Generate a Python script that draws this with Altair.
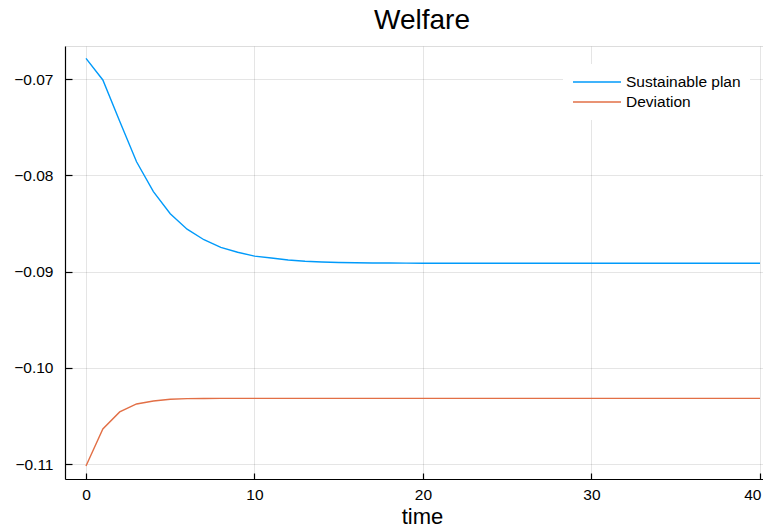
import altair as alt
import pandas as pd

time = list(range(41))
sustainable = [-0.06785, -0.0701, -0.0744, -0.0786, -0.0817, -0.0840, -0.0856, -0.0867,
               -0.0875, -0.0880, -0.0884, -0.0886, -0.0888, -0.08893, -0.08901, -0.08906,
               -0.08909, -0.08911, -0.08912, -0.08913, -0.08914] + [-0.08915] * 20
deviation = [-0.1102, -0.10636, -0.10459, -0.10376, -0.10345, -0.10327, -0.10321,
             -0.10319] + [-0.10318] * 33
series_names = ["Sustainable plan", "Deviation"]
series_colors = ["#009AFA", "#E26F46"]
x_ticks = [0, 10, 20, 30, 40]
y_ticks = [-0.07, -0.08, -0.09, -0.10, -0.11]

df = pd.DataFrame({
    "time": time + time,
    "welfare": sustainable + deviation,
    "series": [series_names[0]] * len(time) + [series_names[1]] * len(time),
})

FONT = "Liberation Sans"
xscale = alt.Scale(domain=[-1.246, 40.178], nice=False, zero=False)
yscale = alt.Scale(domain=[-0.111558, -0.066571], nice=False, zero=False)

lines = alt.Chart(df).mark_line(strokeWidth=1.4).encode(
    x=alt.X("time:Q", scale=xscale, axis=alt.Axis(
        values=x_ticks, title="time", grid=True, ticks=False, domain=True,
        domainColor="#000000", domainWidth=1.2, gridColor="#000000", gridOpacity=0.1,
        labelFont=FONT, labelFontSize=15.5, labelColor="#000000", labelPadding=8,
        labelFlush=10, labelFlushOffset=1,
        titleFont=FONT, titleFontSize=22, titleFontWeight="normal", titleColor="#000000",
        titleX=357, titleY=44, titleBaseline="alphabetic", format="d")),
    y=alt.Y("welfare:Q", scale=yscale, axis=alt.Axis(
        values=y_ticks, title=None, grid=True, ticks=False, domain=True, format=".2f",
        domainColor="#000000", domainWidth=1.2, gridColor="#000000", gridOpacity=0.1,
        labelFont=FONT, labelFontSize=15.5, labelColor="#000000", labelPadding=12)),
    color=alt.Color("series:N", sort=series_names,
                    scale=alt.Scale(domain=series_names, range=series_colors),
                    legend=alt.Legend(
                        title=None, orient="none", legendX=498, legendY=18,
                        symbolType="M-3,0H3", symbolSize=256, symbolStrokeWidth=1.5,
                        symbolOffset=16,
                        labelFont=FONT, labelFontSize=15.5, labelColor="#000000",
                        labelOffset=20, padding=9, fillColor="#FFFFFF", rowPadding=2)),
)

ticks = alt.Chart(df).mark_line(opacity=0).encode(
    x=alt.X("time:Q", scale=xscale, axis=alt.Axis(
        values=x_ticks, orient="bottom", offset=-6, labels=False, domain=False,
        grid=False, ticks=True, tickSize=6, tickColor="#000000", tickWidth=1.2, title=None)),
    y=alt.Y("welfare:Q", scale=yscale, axis=alt.Axis(
        values=y_ticks, orient="left", offset=-7, labels=False, domain=False,
        grid=False, ticks=True, tickSize=7, tickColor="#000000", tickWidth=1.2, title=None)),
)

chart = alt.layer(lines, ticks).resolve_axis(x="independent", y="independent").properties(
    width=698, height=433,
    title=alt.TitleParams("Welfare", font=FONT, fontSize=28, fontWeight="normal",
                          color="#000000", anchor="middle", dx=8, offset=11),
    autosize=alt.AutoSizeParams(type="none"),
    padding={"left": 57, "top": 38, "right": 0, "bottom": 45},
).configure_view(stroke=None).configure(background="#FFFFFF")

chart.save("out.html", embed_options={"renderer": "svg", "actions": False})
